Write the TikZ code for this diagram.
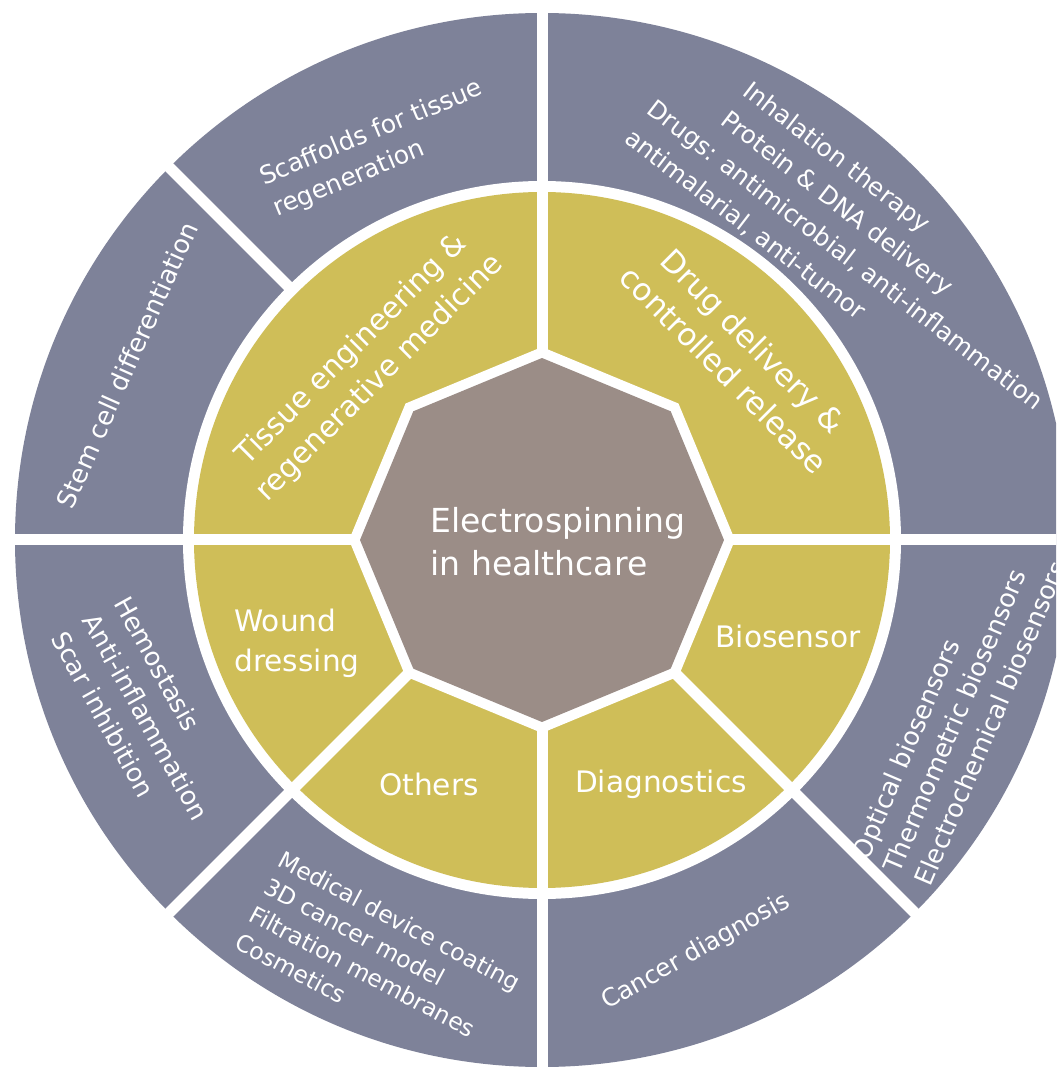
\documentclass[tikz,border=0pt]{standalone}
\usepackage{fontspec}
\setmainfont{DejaVu Sans}
\definecolor{ringouter}{RGB}{126,130,153}
\definecolor{ringinner}{RGB}{207,190,88}
\definecolor{corefill}{RGB}{155,141,135}
\begin{document}
\begin{tikzpicture}[x=0.75pt,y=0.75pt,
  gap/.style={draw=white, line width=8.25pt},
  hub/.style={text=white, font=\fontsize{24.8}{32.25}\selectfont, align=left, inner sep=0pt},
  seg/.style={text=white, font=\fontsize{22.2}{30}\selectfont, align=center, inner sep=0pt},
  leaf/.style={text=white, font=\fontsize{19.3}{27}\selectfont, align=left, inner sep=0pt}]
\useasboundingbox (-542,-533) rectangle (514,540);
\clip (-542,-533) rectangle (514,540);
\fill[white] (-542,-533) rectangle (514,540);
% rings
\fill[ringouter] (0,0) circle (527);
\fill[white] (0,0) circle (359);
\fill[ringinner] (0,0) circle (348);
\fill[white] (0:193) \foreach \a in {45,90,...,315} {-- (\a:193)} -- cycle;
\fill[corefill] (0:182) \foreach \a in {45,90,...,315} {-- (\a:182)} -- cycle;
% dividers
\foreach \a in {0,90,135,180,225,270,315} \draw[gap] (\a:352) -- (\a:545);
\foreach \a in {0,90,180,225,270,315} \draw[gap] (\a:182) -- (\a:356);
% centre
\node[hub] (hub) at (16,-2) {Electrospinning\\in healthcare};
% inner ring
\node[seg, rotate=45] (tissue) at (-176,176) {Tissue engineering \&\\regenerative medicine};
\node[seg, rotate=-45, font=\fontsize{23.3}{30.5}\selectfont] (drug) at (196.5,184.5) {Drug delivery \&\\controlled release};
\node[seg, align=left] (wound) at (-245,-103) {Wound\\dressing};
\node[seg] (others) at (-113,-244) {Others};
\node[seg] (diag) at (119,-244) {Diagnostics};
\node[seg] (bio) at (246,-96) {Biosensor};
% outer ring
\node[leaf, rotate=22.5, font=\fontsize{18.8}{25.5}\selectfont] (scaf) at (-164,391) {Scaffolds for tissue\\regeneration};
\node[leaf, rotate=66] (stem) at (-415,175) {Stem cell differentiation};
\node[leaf, rotate=-37.5, font=\fontsize{18.6}{27.3}\selectfont] (drugs) at (314,299)
  {\hspace*{49pt}Inhalation therapy\\\hspace*{49pt}Protein \& DNA delivery\\Drugs: antimicrobial, anti-inflammation\\antimalarial, anti-tumor};
\node[leaf, rotate=67, font=\fontsize{19.2}{25.5}\selectfont] (sensors) at (417,-170) {Optical biosensors\\Thermometric biosensors\\Electrochemical biosensors};
\node[leaf, rotate=29.5, font=\fontsize{18.5}{27}\selectfont] (cancer) at (154,-412) {Cancer diagnosis};
\node[leaf, rotate=-28, font=\fontsize{17.6}{23.25}\selectfont] (misc) at (-164,-422) {Medical device coating\\3D cancer model\\Filtration membranes\\Cosmetics};
\node[leaf, rotate=-61] (heal) at (-396,-177) {Hemostasis\\Anti-inflammation\\Scar inhibition};
\end{tikzpicture}
\end{document}
